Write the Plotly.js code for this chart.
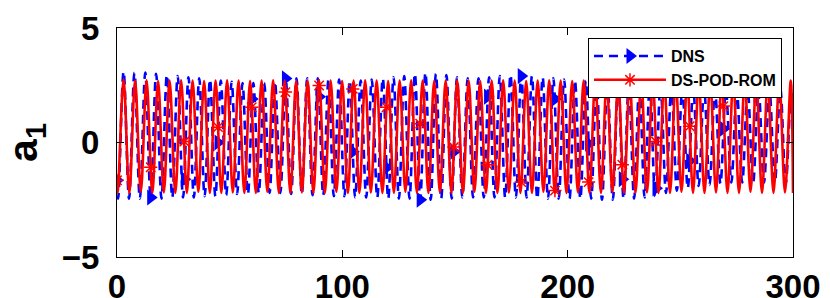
<!DOCTYPE html>
<html>
<head>
<meta charset="utf-8">
<script src="https://cdn.plot.ly/plotly-3.0.1.min.js"></script>
<style>html,body{margin:0;padding:0;background:#fff;}#chart{width:830px;height:298px;}</style>
</head>
<body>
<div id="chart"></div>
<script>
// DNS (blue) : extrema
const dnsT = [0,0.53,2.93,5.34,7.74,10.14,12.55,14.95,17.35,19.74,22.13,24.53,26.93,29.32,31.72,34.10,36.49,38.88,41.27,43.67,46.06,48.47,50.88,53.29,55.70,58.10,60.51,62.91,65.31,67.71,70.09,72.49,74.89,77.27,79.65,82.02,84.40,86.78,89.16,91.52,93.87,96.22,98.58,100.94,103.29,105.68,108.14,110.59,113.05,115.50,117.96,120.37,122.73,125.10,127.47,129.82,132.19,134.55,136.88,139.22,141.54,143.87,146.20,148.53,150.89,153.25,155.63,158.01,160.39,162.76,165.13,167.51,169.89,172.27,174.64,177.02,179.40,181.77,184.15,186.52,188.90,191.27,193.65,196.04,198.43,200.83,203.23,205.63,208.03,210.42,212.82,215.23,217.63,220.04,222.43,224.82,227.15,229.49,231.82,234.14,236.47,238.81,241.21,243.63,246.04,248.46,250.88,253.30,255.72,258.13,260.55,262.97,265.38,267.80,270.21,272.63,275.05,277.46,279.88,282.30,284.71,287.12,289.54,291.95,294.37,296.77,299.19,300];
const dnsY = [-1.65,-2.45,3.1,-2.45,3.05,-2.45,3.05,-2.45,3.0,-2.45,2.95,-2.4,2.9,-2.4,2.85,-2.4,2.8,-2.35,2.75,-2.35,2.7,-2.3,2.65,-2.25,2.6,-2.25,2.6,-2.2,2.6,-2.2,2.65,-2.2,2.75,-2.25,2.8,-2.25,2.8,-2.3,2.8,-2.3,2.75,-2.35,2.75,-2.35,2.7,-2.4,2.7,-2.4,2.75,-2.4,2.8,-2.45,2.85,-2.45,2.9,-2.45,3.0,-2.5,3.05,-2.5,3.0,-2.45,2.95,-2.45,2.85,-2.4,2.8,-2.4,2.8,-2.4,2.85,-2.4,2.9,-2.4,2.95,-2.4,3.0,-2.4,2.9,-2.45,2.85,-2.45,2.8,-2.45,2.75,-2.45,2.7,-2.45,2.7,-2.45,2.7,-2.5,2.65,-2.5,2.65,-2.45,2.6,-2.45,2.6,-2.4,2.55,-2.35,2.5,-2.2,2.45,-2.1,2.4,-2.0,2.35,-1.9,2.35,-1.85,2.3,-1.8,2.3,-1.75,2.3,-1.75,2.3,-1.75,2.3,-1.75,2.3,-1.75,2.35,-1.8,2.35,1.2];

// DS-POD-ROM (red) : extrema
const romT = [0,0.36,2.91,5.47,8.02,10.57,13.12,15.68,18.23,20.78,23.33,25.89,28.44,30.99,33.54,36.10,38.65,41.20,43.75,46.31,48.86,51.41,53.96,56.52,59.07,61.62,64.17,66.73,69.28,71.83,74.38,76.94,79.49,82.04,84.59,87.15,89.70,92.25,94.80,97.36,99.91,102.46,105.01,107.57,110.12,112.67,115.22,117.78,120.33,122.88,125.43,127.99,130.54,133.09,135.64,138.20,140.75,143.30,145.85,148.41,150.96,153.51,156.06,158.62,161.17,163.72,166.27,168.83,171.38,173.93,176.48,179.04,181.59,184.14,186.69,189.25,191.80,194.35,196.90,199.46,202.01,204.56,207.11,209.67,212.22,214.77,217.32,219.88,222.43,224.98,227.53,230.09,232.64,235.19,237.74,240.30,242.85,245.40,247.95,250.51,253.06,255.61,258.16,260.72,263.27,265.82,268.37,270.93,273.48,276.03,278.58,281.14,283.69,286.24,288.79,291.35,293.90,296.45,299.00,300];
const romY = [-1.7,-2.2,2.75,-2.2,2.7,-2.15,2.72,-2.2,2.68,-2.18,2.7,-2.2,2.72,-2.2,2.7,-2.15,2.68,-2.2,2.7,-2.2,2.72,-2.18,2.7,-2.2,2.68,-2.2,2.7,-2.15,2.72,-2.2,2.7,-2.2,2.68,-2.18,2.7,-2.2,2.72,-2.2,2.7,-2.15,2.68,-2.2,2.7,-2.2,2.72,-2.18,2.7,-2.2,2.68,-2.2,2.7,-2.15,2.72,-2.2,2.7,-2.2,2.68,-2.18,2.7,-2.2,2.72,-2.2,2.7,-2.15,2.68,-2.2,2.7,-2.2,2.72,-2.18,2.7,-2.2,2.68,-2.2,2.7,-2.15,2.72,-2.2,2.7,-2.2,2.68,-2.18,2.7,-2.2,2.72,-2.2,2.7,-2.15,2.68,-2.2,2.7,-2.2,2.72,-2.18,2.7,-2.2,2.68,-2.2,2.7,-2.15,2.72,-2.2,2.7,-2.2,2.68,-2.18,2.7,-2.2,2.72,-2.2,2.7,-2.15,2.68,-2.2,2.7,-2.2,2.72,-2.18,2.7,-2.2,2.7,1.05];

// marker samples
const sampleT = [0,14.95,29.9,44.85,59.8,74.75,89.7,104.65,119.6,134.55,149.5,164.45,179.4,194.35,209.3,224.25,239.2,254.15,269.1,284.05];
const dnsMarkY = [-1.65,-2.4,-1.6,0.0,1.9,2.8,2.0,-0.4,-1.1,-2.5,-0.4,2.0,2.9,1.9,-0.05,-1.6,-2.0,-0.8,0.6,2.05];
const romMarkY = [-1.65,-1.08,0.04,0.67,1.54,2.2,2.49,2.34,1.54,0.82,-0.2,-0.97,-1.73,-2.1,-1.73,-0.97,0.04,0.71,1.59,2.27];

const seriesNames = ['DNS', 'DS-POD-ROM'];
const xTicks = [0, 100, 200, 300];
const yTicks = [-5, 0, 5];

const BLUE = '#0000ff', RED = '#ff0000';
const dnsLine = {color: BLUE, width: 2.6, dash: '9px,6px', shape: 'spline', smoothing: 1};
const romLine = {color: RED, width: 2.6, shape: 'spline', smoothing: 1};
const dnsMarker = {symbol: 'triangle-right', size: 14, color: BLUE};
const romMarker = {symbol: 'asterisk-open', size: 11, color: RED, line: {color: RED, width: 1.5}};

const data = [
  {x: dnsT, y: dnsY, mode: 'lines', line: dnsLine, showlegend: false, hoverinfo: 'skip'},
  {x: sampleT, y: dnsMarkY, mode: 'markers', marker: dnsMarker, showlegend: false, hoverinfo: 'skip'},
  {x: romT, y: romY, mode: 'lines', line: romLine, showlegend: false, hoverinfo: 'skip'},
  {x: sampleT, y: romMarkY, mode: 'markers', marker: romMarker, showlegend: false, hoverinfo: 'skip'},
  {x: [null], y: [null], name: seriesNames[0], mode: 'lines+markers', line: {color: BLUE, width: 2.6, dash: '9px,6px'}, marker: dnsMarker},
  {x: [null], y: [null], name: seriesNames[1], mode: 'lines+markers', line: {color: RED, width: 2.6}, marker: romMarker}
];

const tickFont = {family: '"Liberation Sans", Arial, sans-serif', size: 33, color: '#000', weight: 'bold'};

const layout = {
  width: 830, height: 298,
  margin: {l: 117, r: 37, t: 28, b: 41},
  paper_bgcolor: '#fff', plot_bgcolor: '#fff',
  showlegend: true,
  legend: {
    x: 0.9837, xanchor: 'right', y: 0.956, yanchor: 'top',
    bgcolor: '#fff', bordercolor: '#000', borderwidth: 1,
    font: {family: '"Liberation Sans", Arial, sans-serif', size: 16, color: '#000', weight: 'bold'},
    itemwidth: 72, tracegroupgap: 0
  },
  xaxis: {
    range: [0, 300], tickvals: xTicks, ticktext: xTicks.map(String),
    showgrid: false, zeroline: false, showline: true, mirror: 'ticks',
    linecolor: '#000', linewidth: 1, ticks: 'inside', ticklen: 7, tickwidth: 1, tickcolor: '#000',
    tickfont: tickFont, automargin: false
  },
  yaxis: {
    range: [-5, 5], tickvals: yTicks,
    showgrid: false, zeroline: false, showline: true, mirror: 'ticks',
    linecolor: '#000', linewidth: 1, ticks: 'inside', ticklen: 7, tickwidth: 1, tickcolor: '#000',
    tickfont: tickFont, automargin: false, ticklabelstandoff: 10,
    title: {text: 'a<sub>1</sub>', font: {family: '"Liberation Sans", Arial, sans-serif', size: 41, color: '#000', weight: 'bold'}, standoff: 12}
  }
};

Plotly.newPlot('chart', data, layout, {displayModeBar: false, staticPlot: true});
</script>
</body>
</html>
